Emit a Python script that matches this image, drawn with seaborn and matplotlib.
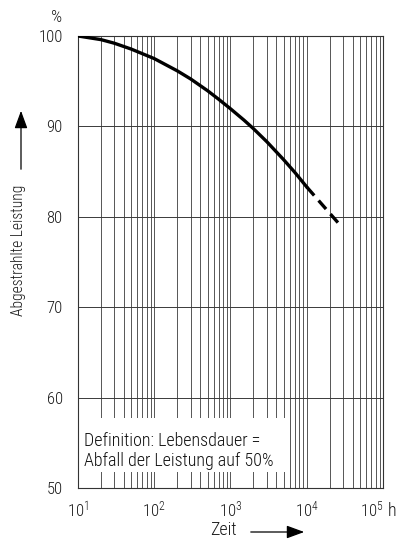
import matplotlib
matplotlib.use("Agg")
import matplotlib.pyplot as plt
import matplotlib.ticker as mticker
from matplotlib import font_manager
from matplotlib.patches import FancyArrowPatch, Rectangle
import numpy as np
import pandas as pd
import seaborn as sns

# Radiated power vs. operating time (log time axis)
hours_solid = [10, 20, 30, 50, 100, 200, 300, 500, 700, 1000, 1500, 2000,
               3000, 5000, 7000, 10000]
power_solid = [100.0, 99.6, 99.2, 98.55, 97.5, 96.15, 95.25, 93.95, 93.0,
               91.95, 90.7, 89.75, 88.3, 86.3, 84.9, 83.3]
hours_dashed = [10000, 15000, 26000]
power_dashed = [83.3, 81.6, 79.3]

y_ticks = [50, 60, 70, 80, 90, 100]
x_ticks = [10, 100, 1000, 10000, 100000]
x_tick_labels = ["$\\mathregular{10^{1}}$", "$\\mathregular{10^{2}}$",
                 "$\\mathregular{10^{3}}$", "$\\mathregular{10^{4}}$",
                 "$\\mathregular{10^{5}}$"]
note_text = "Definition: Lebensdauer =\nAbfall der Leistung auf 50%"

sns.set_theme(style="white")

# Prefer a narrow sans face when one is available
names = {f.name for f in font_manager.fontManager.ttflist}
narrow = [n for n in ("Liberation Sans Narrow", "Roboto Condensed",
                      "Open Sans Condensed", "DejaVu Sans Condensed") if n in names]
stretch = "normal"
if not narrow:
    if any(f.name == "DejaVu Sans" and f.stretch in ("condensed", "semi-condensed")
           for f in font_manager.fontManager.ttflist):
        stretch = "condensed"
    narrow = ["DejaVu Sans"]
plt.rcParams["font.family"] = narrow + ["DejaVu Sans"]
plt.rcParams["font.stretch"] = stretch
plt.rcParams["font.weight"] = "light"
plt.rcParams["mathtext.fontset"] = "custom"
plt.rcParams["mathtext.rm"] = narrow[0] + ":light"

TXT = "#1a1a1a"

fig = plt.figure(figsize=(4.02, 5.41), dpi=100)
ax = fig.add_axes([78 / 402, 1 - 488 / 541, 305 / 402, 452 / 541])

df_solid = pd.DataFrame({"Zeit": hours_solid, "Leistung": power_solid})
df_dashed = pd.DataFrame({"Zeit": hours_dashed, "Leistung": power_dashed})

ax.set_xscale("log")
sns.lineplot(data=df_solid, x="Zeit", y="Leistung", ax=ax, color="black",
             lw=2.4, zorder=5)
sns.lineplot(data=df_dashed, x="Zeit", y="Leistung", ax=ax, color="black",
             lw=2.4, zorder=5)
ax.lines[-1].set_dashes([3.4, 2.0])

ax.set_xlim(10, 100000)
ax.set_ylim(50, 100)

# Grid: every 1..9 subdivision in time, every 10 % in power
ax.xaxis.set_major_locator(mticker.FixedLocator(x_ticks))
ax.xaxis.set_minor_locator(mticker.LogLocator(base=10, subs=np.arange(2, 10)))
ax.xaxis.set_major_formatter(mticker.FixedFormatter(x_tick_labels))
ax.xaxis.set_minor_formatter(mticker.NullFormatter())
ax.set_yticks(y_ticks)
ax.grid(True, which="both", axis="x", color="#3a3a3a", lw=0.6)
ax.grid(True, which="major", axis="y", color="#3a3a3a", lw=0.7)
ax.set_axisbelow(True)
for s in ax.spines.values():
    s.set_color("#333333")
    s.set_linewidth(0.8)

ax.tick_params(axis="both", which="both", length=0, labelsize=12, colors=TXT)
ax.tick_params(axis="y", pad=11)
ax.tick_params(axis="x", pad=8)
ax.set_xlabel("")
ax.set_ylabel("")

# The last decade label sits left of its line so the unit fits beside it
fig.canvas.draw()
ax.get_xticklabels()[-1].set_horizontalalignment("right")

# Note on a white panel over the grid
ax.add_patch(Rectangle((0.004, 0.035), 0.69, 0.12, transform=ax.transAxes,
                       facecolor="white", edgecolor="none", zorder=2))
ax.text(0.02, 0.082, note_text, transform=ax.transAxes, fontsize=13,
        va="center", ha="left", linespacing=1.15, color="#111111", zorder=6)

# Units and axis titles with arrows
fig.text(57 / 402, 1 - 18 / 541, "%", fontsize=12.5, ha="center", va="center",
         color=TXT)
fig.text(392 / 402, 1 - 511 / 541, "h", fontsize=13, ha="center",
         va="center", color=TXT)
fig.text(19 / 402, 1 - 250 / 541, "Abgestrahlte Leistung", rotation=90,
         fontsize=11.2, ha="center", va="center", color=TXT)
fig.text(223 / 402, 1 - 530 / 541, "Zeit", fontsize=13, ha="center",
         va="center", color=TXT)
for start, end in (((21, 172), (21, 108)), ((248, 532), (307, 532))):
    fig.add_artist(FancyArrowPatch(
        (start[0] / 402, 1 - start[1] / 541), (end[0] / 402, 1 - end[1] / 541),
        transform=fig.transFigure, arrowstyle="-|>,head_length=6,head_width=2.2",
        color="black", lw=0.9, mutation_scale=1.8))

fig.savefig("out.png", dpi=100)
